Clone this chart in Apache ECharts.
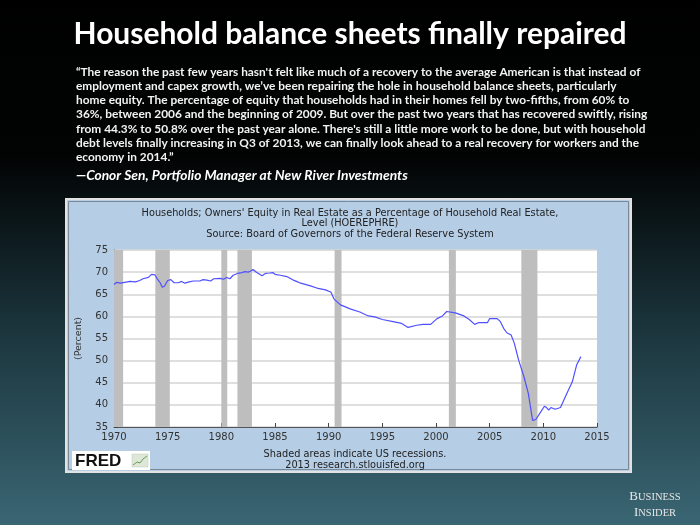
<!DOCTYPE html>
<html><head><meta charset="utf-8">
<script src="https://cdn.jsdelivr.net/npm/echarts@6/dist/echarts.min.js"></script>
<style>
html,body{margin:0;padding:0;}
#c{width:700px;height:525px;background:linear-gradient(180deg,#000 0%,#020404 30%,#0d1a1e 45%,#1d3840 65%,#3a6673 100%);}
</style>
</head><body><div id="c"></div>
<script>
const slideTitle = 'Household balance sheets finally repaired';
const quoteLines = [
  '\u201cThe reason the past few years hasn\'t felt like much of a recovery to the average American is that instead of',
  'employment and capex growth, we\u2019ve been repairing the hole in household balance sheets, particularly',
  'home equity. The percentage of equity that households had in their homes fell by two-fifths, from 60% to',
  '36%, between 2006 and the beginning of 2009. But over the past two years that has recovered swiftly, rising',
  'from 44.3% to 50.8% over the past year alone. There\'s still a little more work to be done, but with household',
  'debt levels finally increasing in Q3 of 2013, we can finally look ahead to a real recovery for workers and the',
  'economy in 2014.\u201d'
];
const attribution = '\u2014Conor Sen, Portfolio Manager at New River Investments';
const chartTitleLines = [
  'Households; Owners\' Equity in Real Estate as a Percentage of Household Real Estate,',
  'Level (HOEREPHRE)',
  'Source: Board of Governors of the Federal Reserve System'
];
const footnoteLines = ['Shaded areas indicate US recessions.', '2013 research.stlouisfed.org'];
const yAxisName = '(Percent)';

const years = [1970.0,1970.25,1970.6,1971.0,1971.5,1972.0,1972.4,1972.7,1973.2,1973.5,1973.8,1974.0,1974.3,1974.5,1974.7,1975.0,1975.3,1975.6,1976.0,1976.3,1976.6,1977.0,1977.4,1978.0,1978.3,1978.65,1979.0,1979.3,1979.9,1980.2,1980.5,1980.8,1981.1,1981.5,1981.9,1982.2,1982.5,1982.7,1982.95,1983.3,1983.8,1984.1,1984.5,1984.8,1985.0,1985.5,1986.1,1986.7,1987.0,1987.4,1988.3,1988.9,1989.7,1990.2,1990.5,1991.1,1991.5,1992.0,1992.9,1993.7,1994.3,1995.0,1996.0,1996.8,1997.4,1998.2,1998.8,1999.5,2000.1,2000.6,2001.0,2001.8,2002.6,2003.1,2003.6,2004.0,2004.8,2005.0,2005.7,2006.0,2006.3,2006.6,2007.0,2007.3,2007.7,2008.2,2008.6,2009.0,2009.3,2009.7,2010.1,2010.3,2010.5,2010.7,2011.1,2011.6,2011.7,2012.2,2012.7,2013.1,2013.5];
const equityPct = [67.2,67.7,67.5,67.7,67.9,67.8,68.1,68.5,68.8,69.5,69.4,68.6,67.6,66.6,66.8,68.1,68.3,67.6,67.6,67.9,67.5,67.8,68.0,68.0,68.3,68.2,68.0,68.5,68.6,68.4,68.8,68.5,69.3,69.7,69.9,70.1,70.0,70.2,70.6,69.9,69.2,69.7,69.8,69.9,69.5,69.3,69.0,68.2,67.9,67.5,66.9,66.4,66.0,65.5,63.9,62.6,62.2,61.7,61.0,60.1,59.9,59.3,58.8,58.4,57.5,58.0,58.2,58.2,59.5,60.1,61.1,60.8,60.1,59.3,58.2,58.6,58.6,59.5,59.5,58.8,57.3,56.3,55.8,53.9,50.1,46.3,42.6,36.5,36.7,38.2,39.7,39.4,38.8,39.4,39.0,39.4,39.4,42.6,45.2,49.0,50.9];
const recessions = [[1969.95,1970.85],[1973.85,1975.2],[1980.0,1980.55],[1981.5,1982.85],[1990.55,1991.2],[2001.2,2001.85],[2007.95,2009.45]];
const xMin = 1970, xMax = 2015, xStep = 5;
const yMin = 35, yMax = 75, yStep = 5;

const ctx2d = document.createElement('canvas').getContext('2d');
function fitSize(text, font, target) {
  ctx2d.font = font.replace('{S}', '100px');
  return 100 * target / ctx2d.measureText(text).width;
}
const titleSize = fitSize(slideTitle, 'bold {S} Lato', 553);
const quoteSize = fitSize(quoteLines[0], 'bold {S} Lato', 565);
const attrSize = fitSize(attribution, 'italic bold {S} Lato', 332);
const hdrSize = fitSize(chartTitleLines[0], 'normal {S} "DejaVu Sans"', 417);

const graphics = [];
graphics.push({type:'rect', z:-10, shape:{x:66,y:199,width:565,height:273}, style:{fill:'#b5cde5', stroke:'#e2e2e2', lineWidth:2}});
graphics.push({type:'rect', z:-9, shape:{x:68.5,y:201.5,width:560,height:268}, style:{fill:'none', stroke:'#7a8898', lineWidth:1}});
graphics.push({type:'text', style:{text:slideTitle, x:350, y:34, fill:'#fff', font:'bold '+titleSize.toFixed(2)+'px Lato', textAlign:'center', textVerticalAlign:'middle', align:'center', verticalAlign:'middle'}});
quoteLines.forEach((t,i)=>{
  graphics.push({type:'text', style:{text:t, x:76, y:72 + i*14.2, fill:'#f2f2f2', font:'bold '+quoteSize.toFixed(2)+'px Lato', textAlign:'left', textVerticalAlign:'middle', align:'left', verticalAlign:'middle'}});
});
graphics.push({type:'text', style:{text:attribution, x:76, y:176, fill:'#fff', font:'italic bold '+attrSize.toFixed(2)+'px Lato', textAlign:'left', textVerticalAlign:'middle', align:'left', verticalAlign:'middle'}});
chartTitleLines.forEach((t,i)=>{
  graphics.push({type:'text', style:{text:t, x:350, y:213 + i*10.5, fill:'#222', font:hdrSize.toFixed(2)+'px "DejaVu Sans"', textAlign:'center', textVerticalAlign:'middle', align:'center', verticalAlign:'middle'}});
});
footnoteLines.forEach((t,i)=>{
  graphics.push({type:'text', style:{text:t, x:355, y:454 + i*11, fill:'#222', font:hdrSize.toFixed(2)+'px "DejaVu Sans"', textAlign:'center', textVerticalAlign:'middle', align:'center', verticalAlign:'middle'}});
});
// FRED logo
graphics.push({type:'rect', shape:{x:72,y:451,width:78,height:19}, style:{fill:'#fff'}});
graphics.push({type:'text', style:{text:'FRED', x:75, y:461, fill:'#111', font:'bold 17px "Liberation Sans"', textAlign:'left', textVerticalAlign:'middle', align:'left', verticalAlign:'middle'}});
graphics.push({type:'rect', shape:{x:132,y:454,width:16,height:13}, style:{fill:'#dfe8d8', stroke:'#b8c8b0', lineWidth:0.5}});
graphics.push({type:'polyline', shape:{points:[[133,465],[137,462],[140,463],[143,459],[147,456]]}, style:{stroke:'#6a9a5a', lineWidth:1, fill:'none'}});
// Business Insider
graphics.push({type:'text', style:{x:655, y:497, textAlign:'center', textVerticalAlign:'middle', align:'center', verticalAlign:'middle',
  rich:{b:{fontSize:13, fontFamily:'Liberation Serif', fill:'#e6e6e6'}, s:{fontSize:10.5, fontFamily:'Liberation Serif', fill:'#e6e6e6'}},
  text:'{b|B}{s|USINESS}'}});
graphics.push({type:'text', style:{x:655, y:513, textAlign:'center', textVerticalAlign:'middle', align:'center', verticalAlign:'middle',
  rich:{b:{fontSize:13, fontFamily:'Liberation Serif', fill:'#e6e6e6'}, s:{fontSize:10.5, fontFamily:'Liberation Serif', fill:'#e6e6e6'}},
  text:'{b|I}{s|NSIDER}'}});

const chart = echarts.init(document.getElementById('c'), null, {renderer:'canvas'});
chart.setOption({
  animation:false,
  backgroundColor:'transparent',
  graphic: graphics,
  grid:{left:114, right:103, top:250, bottom:98, show:true, backgroundColor:'#ffffff', borderWidth:0},
  xAxis:{type:'value', min:xMin, max:xMax, interval:xStep,
    axisLine:{show:true, lineStyle:{color:'#555', width:1}},
    axisTick:{show:true, inside:true, length:4, lineStyle:{color:'#444'}},
    axisLabel:{color:'#333', fontFamily:'DejaVu Sans', fontSize:10, margin:5, formatter:v=>String(v)},
    splitLine:{show:false}},
  yAxis:{type:'value', min:yMin, max:yMax, interval:yStep, name:yAxisName, nameLocation:'middle', nameRotate:90, nameGap:30,
    nameTextStyle:{color:'#333', fontFamily:'DejaVu Sans', fontSize:9.5},
    axisLine:{show:true, lineStyle:{color:'#555', width:1}},
    axisTick:{show:true, inside:true, length:4, lineStyle:{color:'#444'}},
    axisLabel:{color:'#333', fontFamily:'DejaVu Sans', fontSize:10, margin:6},
    splitLine:{show:true, lineStyle:{color:'#d4d4d4', width:1.5}}},
  series:[{
    type:'line', data: years.map((y,i)=>[y, equityPct[i]]), showSymbol:false, smooth:false,
    lineStyle:{color:'#5050ff', width:1.2},
    markArea:{silent:true, itemStyle:{color:'#bebebe'}, data: recessions.map(r=>[{xAxis:r[0]},{xAxis:r[1]}])}
  }]
});
</script>
</body></html>
